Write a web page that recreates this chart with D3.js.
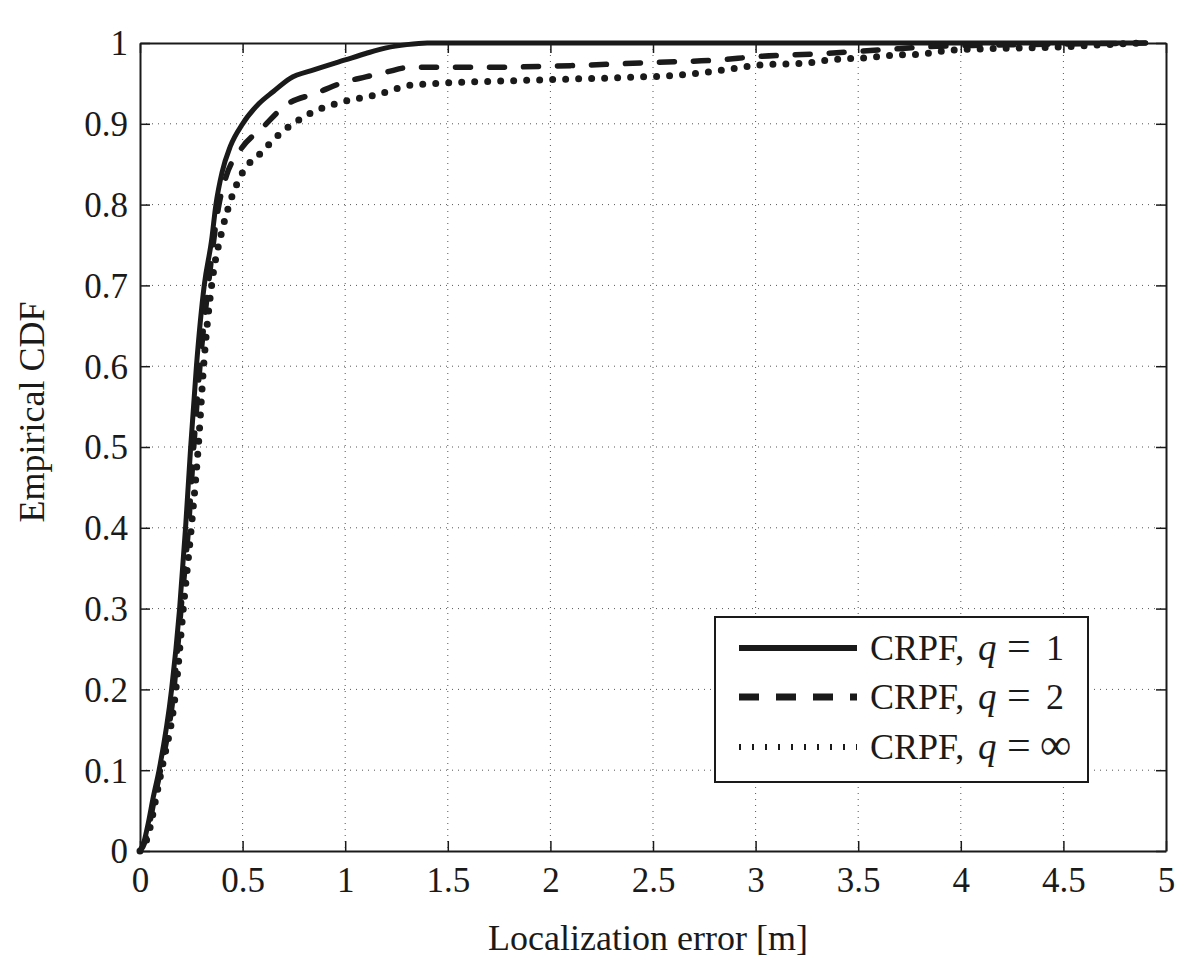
<!DOCTYPE html>
<html>
<head>
<meta charset="utf-8">
<script src="https://cdn.jsdelivr.net/npm/d3@7"></script>
<style>
  html, body { margin: 0; padding: 0; background: #fff; }
  svg { display: block; }
  text { font-family: "Liberation Serif", "Times New Roman", serif; fill: #1a1a1a; }
</style>
</head>
<body>
<svg id="chart" width="1200" height="962"></svg>
<script>
// ---- data ----
const xTicks = [0, 0.5, 1, 1.5, 2, 2.5, 3, 3.5, 4, 4.5, 5];
const yTicks = [0, 0.1, 0.2, 0.3, 0.4, 0.5, 0.6, 0.7, 0.8, 0.9, 1];
const xTickLabels = ["0", "0.5", "1", "1.5", "2", "2.5", "3", "3.5", "4", "4.5", "5"];
const yTickLabels = ["0", "0.1", "0.2", "0.3", "0.4", "0.5", "0.6", "0.7", "0.8", "0.9", "1"];

const seriesNames = ["CRPF, q = 1", "CRPF, q = 2", "CRPF, q = \u221E"];
const seriesQ = ["1", "2", "\u221E"];

const q1X = [0, 0.02, 0.04, 0.065, 0.093, 0.154, 0.193, 0.222, 0.247, 0.275, 0.313, 0.349, 0.37, 0.40, 0.44, 0.5, 0.58, 0.65, 0.73, 0.85, 1.0, 1.1, 1.2, 1.3, 1.4, 2.0, 3.0, 4.0, 4.9];
const q1Y = [0, 0.012, 0.034, 0.067, 0.10, 0.20, 0.30, 0.40, 0.50, 0.60, 0.70, 0.756, 0.80, 0.84, 0.872, 0.90, 0.925, 0.94, 0.956, 0.967, 0.979, 0.987, 0.994, 0.998, 1, 1, 1, 1, 1];

const q2X = [0, 0.025, 0.045, 0.07, 0.10, 0.165, 0.20, 0.236, 0.262, 0.292, 0.333, 0.385, 0.42, 0.49, 0.6, 0.71, 0.86, 1.0, 1.1, 1.2, 1.32, 1.7, 2.1, 2.5, 2.82, 3.0, 3.33, 3.52, 3.7, 3.88, 4.06, 4.3, 4.6, 4.9];
const q2Y = [0, 0.012, 0.032, 0.065, 0.10, 0.20, 0.30, 0.40, 0.50, 0.60, 0.70, 0.80, 0.835, 0.868, 0.896, 0.923, 0.938, 0.952, 0.958, 0.964, 0.97, 0.970, 0.972, 0.976, 0.979, 0.983, 0.987, 0.99, 0.993, 0.996, 0.997, 0.998, 0.999, 1];

const qInfX = [0, 0.03, 0.05, 0.075, 0.105, 0.175, 0.211, 0.25, 0.284, 0.31, 0.349, 0.40, 0.435, 0.503, 0.585, 0.675, 0.83, 0.985, 1.147, 1.33, 1.91, 2.385, 2.61, 2.86, 3.03, 3.24, 3.36, 3.55, 3.68, 3.8, 3.94, 4.14, 4.48, 4.62, 4.9];
const qInfY = [0, 0.012, 0.03, 0.062, 0.10, 0.20, 0.30, 0.40, 0.50, 0.60, 0.70, 0.768, 0.80, 0.841, 0.863, 0.886, 0.913, 0.927, 0.9355, 0.948, 0.954, 0.9575, 0.960, 0.967, 0.973, 0.975, 0.979, 0.982, 0.985, 0.986, 0.991, 0.993, 0.995, 0.997, 1];

// ---- layout ----
const svg = d3.select("#chart");
const L = 140, R = 1166, T = 43, B = 851;
const x = d3.scaleLinear().domain([0, 5]).range([L, R]);
const y = d3.scaleLinear().domain([0, 1]).range([B, T]);
const ink = "#1a1a1a";

// grid
const grid = svg.append("g");
grid.selectAll("line.gx").data(xTicks.slice(1, -1)).join("line")
  .attr("x1", d => x(d)).attr("x2", d => x(d)).attr("y1", T).attr("y2", B)
  .attr("stroke", "#555").attr("stroke-width", 1).attr("stroke-dasharray", "1,5");
grid.selectAll("line.gy").data(yTicks.slice(1, -1)).join("line")
  .attr("x1", L).attr("x2", R).attr("y1", d => y(d)).attr("y2", d => y(d))
  .attr("stroke", "#555").attr("stroke-width", 1).attr("stroke-dasharray", "1,5");

// axes (inward ticks on all sides)
const tl = 10;
const axB = svg.append("g").attr("transform", `translate(0,${B})`)
  .call(d3.axisBottom(x).tickValues(xTicks).tickSizeInner(-tl).tickSizeOuter(0).tickFormat((d, i) => xTickLabels[i]));
const axT = svg.append("g").attr("transform", `translate(0,${T})`)
  .call(d3.axisTop(x).tickValues(xTicks).tickSizeInner(-tl).tickSizeOuter(0).tickFormat(""));
const axL = svg.append("g").attr("transform", `translate(${L},0)`)
  .call(d3.axisLeft(y).tickValues(yTicks).tickSizeInner(-tl).tickSizeOuter(0).tickFormat((d, i) => yTickLabels[i]));
const axR = svg.append("g").attr("transform", `translate(${R},0)`)
  .call(d3.axisRight(y).tickValues(yTicks).tickSizeInner(-tl).tickSizeOuter(0).tickFormat(""));
[axB, axT, axL, axR].forEach(a => {
  a.attr("font-family", null);
  a.select(".domain").attr("stroke", ink).attr("stroke-width", 2);
  a.selectAll(".tick line").attr("stroke", ink).attr("stroke-width", 1.5);
  a.selectAll("text").style("font-family", "'Liberation Serif', serif").attr("font-size", 35).attr("fill", ink);
});
axB.selectAll("text").attr("dy", null).attr("y", 41);
axL.selectAll("text").attr("dy", "0.34em").attr("x", -12);

// series
const mk = (xs, ys) => xs.map((v, i) => [v, ys[i]]);
const line = d3.line().x(d => x(d[0])).y(d => y(d[1])).curve(d3.curveMonotoneX);
const series = [
  { pts: mk(q1X, q1Y), dash: null, cap: "round", w: 5 },
  { pts: mk(q2X, q2Y), dash: "15,19", cap: "round", w: 5.5 },
  { pts: mk(qInfX, qInfY), dash: "0,13", cap: "round", w: 7 }
];
const plot = svg.append("g");
series.forEach(s => {
  plot.append("path").datum(s.pts).attr("d", line)
    .attr("fill", "none").attr("stroke", ink).attr("stroke-width", s.w)
    .attr("stroke-linecap", s.cap).attr("stroke-linejoin", "round")
    .attr("stroke-dasharray", s.dash);
});

// axis titles
svg.append("text").attr("x", (L + R) / 2 - 5).attr("y", 950).attr("text-anchor", "middle")
  .attr("font-size", 36).text("Localization error [m]");
svg.append("text").attr("transform", `translate(44,${412}) rotate(-90)`).attr("text-anchor", "middle")
  .attr("font-size", 36).text("Empirical CDF");

// legend
const lg = svg.append("g");
lg.append("rect").attr("x", 715).attr("y", 617).attr("width", 373).attr("height", 165)
  .attr("fill", "#fff").attr("stroke", ink).attr("stroke-width", 2);
const rowsY = [648, 697, 747];
const legStyles = [
  { dash: null, w: 6, cap: "butt" },
  { dash: "20,17", w: 7, cap: "butt" },
  { dash: "2,11", w: 6, cap: "butt" }
];
seriesQ.forEach((q, i) => {
  const st = legStyles[i];
  lg.append("line").attr("x1", 739).attr("x2", 857).attr("y1", rowsY[i]).attr("y2", rowsY[i])
    .attr("stroke", ink).attr("stroke-width", st.w).attr("stroke-dasharray", st.dash).attr("stroke-linecap", st.cap);
  const by = rowsY[i] + 12;
  lg.append("text").attr("x", 870).attr("y", by).attr("font-size", 36).text("CRPF,");
  lg.append("text").attr("x", 978).attr("y", by).attr("font-size", 37).attr("font-style", "italic").text("q");
  lg.append("text").attr("x", 1007).attr("y", by).attr("font-size", 42).text("=");
  if (q === "\u221E") {
    lg.append("text").attr("x", 1040).attr("y", by).attr("font-size", 44).text(q);
  } else {
    lg.append("text").attr("x", 1046).attr("y", by).attr("font-size", 36).text(q);
  }
});
</script>
</body>
</html>
